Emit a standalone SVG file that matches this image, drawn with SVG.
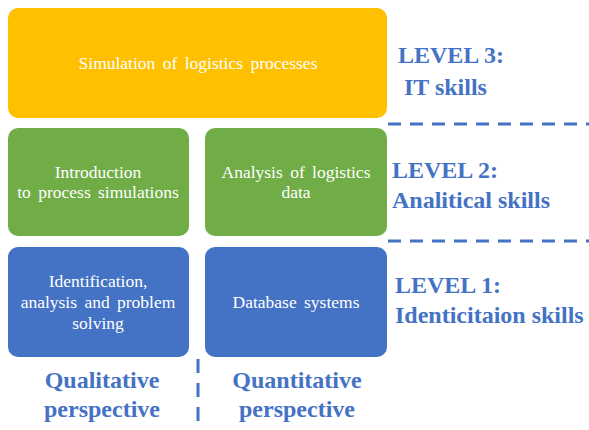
<svg xmlns="http://www.w3.org/2000/svg" width="589" height="430" viewBox="0 0 589 430">
  <!-- Level 3 -->
  <g id="simulation" fill="#FFFFFF" font-size="17.5" text-anchor="middle" word-spacing="3">
    <rect fill="#FFC000" x="8" y="8" width="379" height="110" rx="10"/>
    <text style="font-family:'Liberation Serif',serif" x="198" y="69">Simulation of logistics processes</text>
  </g>

  <!-- Level 2 -->
  <g id="intro-simulations" fill="#FFFFFF" font-size="17.5" text-anchor="middle" word-spacing="3">
    <rect fill="#70AD47" x="8" y="128" width="181" height="108" rx="10"/>
    <text style="font-family:'Liberation Serif',serif" x="98" y="178">Introduction</text>
    <text style="font-family:'Liberation Serif',serif" x="98" y="198">to process simulations</text>
  </g>
  <g id="analysis-data" fill="#FFFFFF" font-size="17.5" text-anchor="middle" word-spacing="3">
    <rect fill="#70AD47" x="205" y="128" width="182" height="108" rx="10"/>
    <text style="font-family:'Liberation Serif',serif" x="296" y="178">Analysis of logistics</text>
    <text style="font-family:'Liberation Serif',serif" x="296" y="198">data</text>
  </g>

  <!-- Level 1 -->
  <g id="identification" fill="#FFFFFF" font-size="17.5" text-anchor="middle" word-spacing="3">
    <rect fill="#4472C4" x="8" y="247" width="181" height="110" rx="10"/>
    <text style="font-family:'Liberation Serif',serif" x="98" y="287">Identification,</text>
    <text style="font-family:'Liberation Serif',serif" x="98" y="308">analysis and problem</text>
    <text style="font-family:'Liberation Serif',serif" x="98" y="329">solving</text>
  </g>
  <g id="database" fill="#FFFFFF" font-size="17.5" text-anchor="middle" word-spacing="3">
    <rect fill="#4472C4" x="205" y="247" width="182" height="110" rx="10"/>
    <text style="font-family:'Liberation Serif',serif" x="296" y="308">Database systems</text>
  </g>

  <!-- Dashed separators -->
  <g id="separators" stroke="#4472C4" stroke-width="3" fill="none">
    <line x1="388" y1="124" x2="589" y2="124" stroke-dasharray="13 9"/>
    <line x1="388" y1="241" x2="589" y2="241" stroke-dasharray="13 9"/>
    <line x1="198" y1="359" x2="198" y2="425" stroke-dasharray="14 10"/>
  </g>

  <!-- Level labels -->
  <g id="level-labels" fill="#4472C4" font-size="24" font-weight="bold">
    <text style="font-family:'Liberation Serif',serif" x="398" y="63">LEVEL 3:</text>
    <text style="font-family:'Liberation Serif',serif" x="404" y="95">IT skills</text>
    <text style="font-family:'Liberation Serif',serif" x="392" y="178">LEVEL 2:</text>
    <text style="font-family:'Liberation Serif',serif" x="392" y="208">Analitical skills</text>
    <text style="font-family:'Liberation Serif',serif" x="395" y="293">LEVEL 1:</text>
    <text style="font-family:'Liberation Serif',serif" x="395" y="323">Identicitaion skills</text>
  </g>

  <!-- Perspective labels -->
  <g id="perspectives" fill="#4472C4" font-size="24" font-weight="bold" text-anchor="middle">
    <text style="font-family:'Liberation Serif',serif" x="102" y="388">Qualitative</text>
    <text style="font-family:'Liberation Serif',serif" x="102" y="417">perspective</text>
    <text style="font-family:'Liberation Serif',serif" x="297" y="388">Quantitative</text>
    <text style="font-family:'Liberation Serif',serif" x="297" y="417">perspective</text>
  </g>
</svg>
